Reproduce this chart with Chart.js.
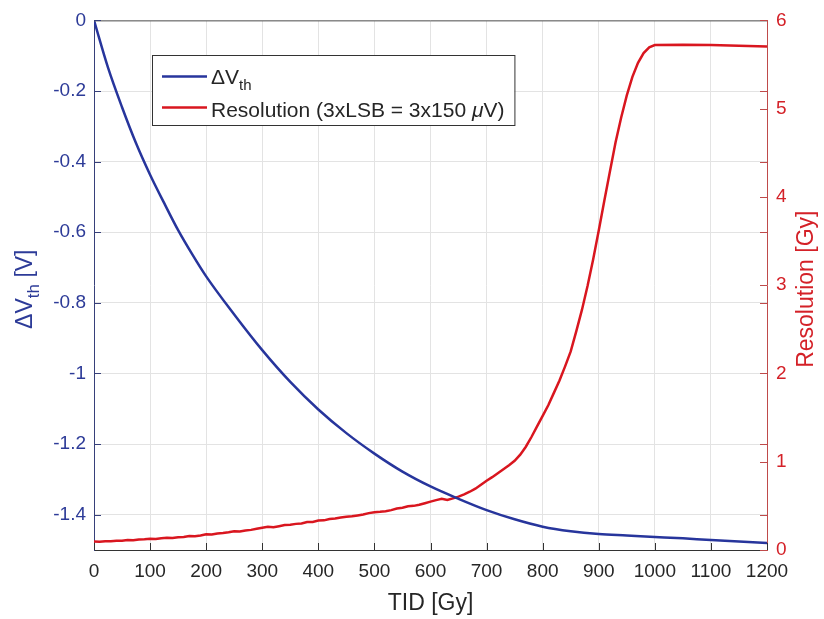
<!DOCTYPE html>
<html>
<head>
<meta charset="utf-8">
<script src="https://cdn.jsdelivr.net/npm/chart.js@4.4.1/dist/chart.umd.min.js"></script>
<style>
  html, body { margin: 0; padding: 0; background: #fff; }
  #wrap { width: 824px; height: 619px; position: relative; }
</style>
</head>
<body>
<div id="wrap"><canvas id="tidChart"></canvas></div>
<script>
const FONT = '"Liberation Sans", Arial, Helvetica, sans-serif';

// axis ticks
const tidTicks = [0, 100, 200, 300, 400, 500, 600, 700, 800, 900, 1000, 1100, 1200];
const dvTicks = [0, -0.2, -0.4, -0.6, -0.8, -1, -1.2, -1.4];
const resTicks = [0, 1, 2, 3, 4, 5, 6];

// threshold voltage shift vs dose
const dvTid = [0, 25, 50, 75, 100, 125, 150, 175, 200, 250, 300, 350, 400, 450, 500, 550, 600,
  650, 700, 750, 800, 850, 900, 950, 1000, 1050, 1100, 1150, 1200];
const dvVolts = [0, -0.134, -0.246, -0.348, -0.437, -0.517, -0.594, -0.662, -0.725, -0.833, -0.934,
  -1.024, -1.102, -1.169, -1.227, -1.278, -1.32, -1.355, -1.387, -1.413, -1.434, -1.447, -1.455,
  -1.459, -1.463, -1.467, -1.472, -1.476, -1.48];

// dose resolution (3 LSB) vs dose
const resTid = [0, 10, 20, 30, 40, 50, 60, 70, 80, 90, 100, 110, 120, 130, 140, 150, 160, 170, 180, 190,
  200, 210, 220, 230, 240, 250, 260, 270, 280, 290, 300, 310, 320, 330, 340, 350, 360, 370, 380, 390,
  400, 410, 420, 430, 440, 450, 460, 470, 480, 490, 500, 510, 520, 530, 540, 550, 560, 570, 580, 590,
  600, 610, 620, 630, 640, 650, 660, 670, 680, 690, 700, 710, 720, 730, 740, 750, 760, 770, 780, 790,
  800, 810, 820, 830, 840, 850, 860, 870, 880, 890, 900, 910, 920, 930, 940, 950, 960, 970, 980, 990,
  1000, 1050, 1100, 1150, 1200];
const resGy = [0.095, 0.093, 0.100, 0.098, 0.106, 0.104, 0.112, 0.110, 0.118, 0.122,
  0.128, 0.126, 0.134, 0.138, 0.136, 0.145, 0.148, 0.158, 0.156, 0.165,
  0.178, 0.176, 0.188, 0.192, 0.200, 0.212, 0.210, 0.222, 0.228, 0.240,
  0.252, 0.262, 0.258, 0.270, 0.282, 0.285, 0.296, 0.300, 0.316, 0.318,
  0.334, 0.336, 0.352, 0.356, 0.368, 0.376, 0.382, 0.392, 0.402, 0.418,
  0.428, 0.432, 0.438, 0.452, 0.470, 0.478, 0.495, 0.500, 0.512, 0.530,
  0.548, 0.565, 0.580, 0.566, 0.585, 0.605, 0.630, 0.660, 0.695, 0.740,
  0.785, 0.825, 0.870, 0.915, 0.960, 1.010, 1.080, 1.170, 1.280, 1.400,
  1.520, 1.640, 1.780, 1.920, 2.080, 2.250, 2.480, 2.720, 2.990, 3.290,
  3.620, 3.960, 4.290, 4.620, 4.900, 5.150, 5.360, 5.520, 5.630, 5.695,
  5.720, 5.725, 5.720, 5.712, 5.705];

const BLUE = '#27359c';
const BLUE_TXT = '#2d3b98';
const RED = '#d9161f';
const RED_TXT = '#d42128';
const RED_AXIS = '#bf4a4a';
const DARK = '#262626';
const GRID = '#e3e3e3';

// draws a run of text pieces, some as subscripts or in italics
function drawRich(ctx, parts, x, y, size) {
    let cx = x;
    parts.forEach(p => {
        const s = p.sub ? Math.round(size * 0.72) : size;
        ctx.font = (p.italic ? 'italic ' : '') + s + 'px ' + FONT;
        ctx.fillText(p.t, cx, p.sub ? y + size * 0.3 : y);
        cx += ctx.measureText(p.t).width;
    });
    return cx - x;
}

function richWidth(ctx, parts, size) {
    let w = 0;
    parts.forEach(p => {
        const s = p.sub ? Math.round(size * 0.72) : size;
        ctx.font = (p.italic ? 'italic ' : '') + s + 'px ' + FONT;
        w += ctx.measureText(p.t).width;
    });
    return w;
}

const dvLabel = [{ t: '\u0394V' }, { t: 'th', sub: true }];
const resLabel = [{ t: 'Resolution (3xLSB = 3x150 ' }, { t: '\u03bc', italic: true }, { t: 'V)' }];

const framePlugin = {
    id: 'frame',
    afterDraw(chart) {
        const ctx = chart.ctx;
        const area = chart.chartArea;
        const sx = chart.scales.x, sl = chart.scales.yDv, sr = chart.scales.yRes;
        ctx.save();

        // top box edge
        ctx.strokeStyle = '#555';
        ctx.lineWidth = 1;
        ctx.beginPath();
        ctx.moveTo(area.left, area.top + 0.5);
        ctx.lineTo(area.right, area.top + 0.5);
        ctx.stroke();

        // inward tick marks
        const tl = 7;
        ctx.strokeStyle = '#333';
        ctx.beginPath();
        tidTicks.forEach(v => {
            const px = Math.round(sx.getPixelForValue(v)) + 0.5;
            ctx.moveTo(px, area.bottom);
            ctx.lineTo(px, area.bottom - tl);
        });
        ctx.stroke();
        ctx.strokeStyle = '#37407a';
        ctx.beginPath();
        dvTicks.forEach(v => {
            const py = Math.round(sl.getPixelForValue(v)) + 0.5;
            ctx.moveTo(area.left, py);
            ctx.lineTo(area.left + tl, py);
        });
        ctx.stroke();
        ctx.strokeStyle = RED_AXIS;
        ctx.beginPath();
        resTicks.forEach(v => {
            const py = Math.round(sr.getPixelForValue(v)) + 0.5;
            ctx.moveTo(area.right, py);
            ctx.lineTo(area.right - tl, py);
        });
        dvTicks.forEach(v => {
            const py = Math.round(sl.getPixelForValue(v)) + 0.5;
            ctx.moveTo(area.right, py);
            ctx.lineTo(area.right - tl, py);
        });
        ctx.stroke();

        // axis titles
        const ts = 23;
        ctx.textBaseline = 'alphabetic';
        ctx.textAlign = 'left';
        ctx.fillStyle = DARK;
        ctx.font = ts + 'px ' + FONT;
        const xt = 'TID [Gy]';
        ctx.fillText(xt, (area.left + area.right) / 2 - ctx.measureText(xt).width / 2, 610);

        const midY = (area.top + area.bottom) / 2;
        const leftParts = [{ t: '\u0394V' }, { t: 'th', sub: true }, { t: ' [V]' }];
        ctx.save();
        ctx.translate(32, midY + 4);
        ctx.rotate(-Math.PI / 2);
        ctx.fillStyle = BLUE_TXT;
        drawRich(ctx, leftParts, -richWidth(ctx, leftParts, ts) / 2, 0, ts);
        ctx.restore();

        ctx.save();
        ctx.translate(813, midY + 4);
        ctx.rotate(-Math.PI / 2);
        ctx.fillStyle = RED_TXT;
        ctx.font = ts + 'px ' + FONT;
        const rt = 'Resolution [Gy]';
        ctx.fillText(rt, -ctx.measureText(rt).width / 2, 0);
        ctx.restore();

        // legend box
        const ls = 21;
        const boxX = 152, boxY = 55, boxH = 70;
        const textX = 211;
        const tw = Math.max(richWidth(ctx, dvLabel, ls), richWidth(ctx, resLabel, ls));
        const boxW = textX - boxX + tw + 10;
        ctx.fillStyle = '#fff';
        ctx.fillRect(boxX, boxY, boxW, boxH);
        ctx.strokeStyle = '#333';
        ctx.lineWidth = 1;
        ctx.strokeRect(boxX + 0.5, boxY + 0.5, boxW, boxH);

        const rows = [
            { parts: dvLabel, color: BLUE, lineY: 76.5, base: 83.5 },
            { parts: resLabel, color: RED, lineY: 107.5, base: 117 }
        ];
        rows.forEach(r => {
            ctx.strokeStyle = r.color;
            ctx.lineWidth = 2.5;
            ctx.beginPath();
            ctx.moveTo(162, r.lineY);
            ctx.lineTo(207, r.lineY);
            ctx.stroke();
            ctx.fillStyle = DARK;
            drawRich(ctx, r.parts, textX, r.base, ls);
        });

        ctx.restore();
    }
};

const dvPoints = dvTid.map((t, i) => ({ x: t, y: dvVolts[i] }));
const resPoints = resTid.map((t, i) => ({ x: t, y: resGy[i] }));

const tickFont = { family: FONT, size: 19 };

new Chart(document.getElementById('tidChart'), {
    type: 'line',
    data: {
        datasets: [{
            label: '\u0394Vth',
            data: dvPoints,
            yAxisID: 'yDv',
            borderColor: BLUE,
            borderWidth: 2.5,
            pointRadius: 0,
            cubicInterpolationMode: 'monotone',
            fill: false
        }, {
            label: 'Resolution (3xLSB = 3x150 \u03bcV)',
            data: resPoints,
            yAxisID: 'yRes',
            borderColor: RED,
            borderWidth: 2.5,
            pointRadius: 0,
            tension: 0,
            fill: false
        }]
    },
    options: {
        responsive: true,
        maintainAspectRatio: false,
        animation: false,
        devicePixelRatio: 1,
        layout: { padding: { top: 18, left: 0, right: 0, bottom: 0 } },
        plugins: {
            legend: { display: false },
            tooltip: { enabled: false }
        },
        scales: {
            x: {
                type: 'linear',
                min: 0,
                max: 1200,
                afterBuildTicks: scale => { scale.ticks = tidTicks.map(v => ({ value: v })); },
                afterFit: scale => { scale.height = 69; },
                grid: {
                    color: c => (c.tick && (c.tick.value === 0 || c.tick.value === 1200)) ? 'rgba(0,0,0,0)' : GRID,
                    drawTicks: false
                },
                border: { color: '#333', width: 1 },
                ticks: {
                    color: DARK,
                    font: tickFont,
                    padding: 10,
                    maxRotation: 0,
                    autoSkip: false,
                    callback: v => String(v)
                }
            },
            yDv: {
                type: 'linear',
                position: 'left',
                min: -1.5,
                max: 0,
                afterBuildTicks: scale => { scale.ticks = dvTicks.map(v => ({ value: v })); },
                afterFit: scale => { scale.width = 94; },
                grid: { color: GRID, drawTicks: false },
                border: { color: '#37407a', width: 1 },
                ticks: {
                    color: BLUE_TXT,
                    font: tickFont,
                    padding: 8,
                    callback: v => String(Math.round(v * 10) / 10)
                }
            },
            yRes: {
                type: 'linear',
                position: 'right',
                min: 0,
                max: 6,
                afterBuildTicks: scale => { scale.ticks = resTicks.map(v => ({ value: v })); },
                afterFit: scale => { scale.width = 57; },
                grid: { display: false, drawTicks: false },
                border: { color: RED_AXIS, width: 1 },
                ticks: { color: RED_TXT, font: tickFont, padding: 9 }
            }
        }
    },
    plugins: [framePlugin]
});
</script>
</body>
</html>
